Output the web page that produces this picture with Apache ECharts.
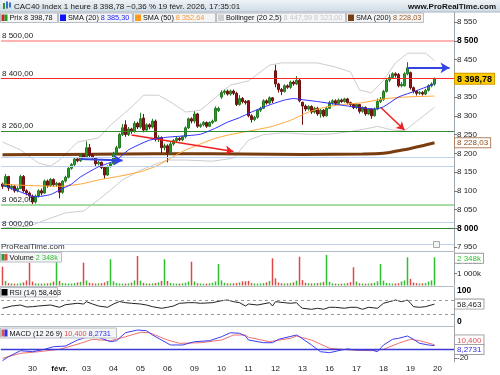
<!DOCTYPE html>
<html><head><meta charset="utf-8">
<script src="https://cdn.jsdelivr.net/npm/echarts@6.0.0/dist/echarts.min.js"></script>
<style>html,body{margin:0;padding:0;background:#fff}#c{width:500px;height:375px}</style>
</head><body><div id="c"></div>
<script>
// ---------------- DATA ----------------
const openP = [8118,8112,8138,8108,8112,8100,8106,8138,8100,8094,
 8086,8070,8086,8100,8094,8126,8114,8130,8116,
 8120,8096,8126,8136,8160,8170,8185,8180,8195,
 8190,8215,8195,8188,8172,8176,8162,8142,8165,
 8172,8200,8215,8250,8276,8250,8265,8258,8280,
 8270,8294,8262,8276,8270,8286,8238,8242,8215,
 8220,8202,8225,8234,8240,8236,8244,8268,8292,
 8286,8305,8272,8276,8282,8272,8282,8286,8314,
 8350,8362,8366,8358,8366,8360,8330,8346,8338,
 8340,8300,8290,8296,8315,8320,8340,8334,8348,
 8420,8385,8370,8365,8380,8376,8390,8385,8395,
 8336,8326,8318,8325,8310,8320,8305,8315,8300,
 8320,8335,8340,8333,8342,8338,8345,8335,8330,
 8322,8330,8312,8322,8305,8318,8300,8318,8338,
 8344,8365,8395,8402,8412,8410,8380,8380,8412,
 8415,8375,8366,8360,8362,8358,8368,8380,8385];
const closeP = [8112,8138,8108,8112,8100,8106,8138,8100,8094,8086,
 8070,8086,8100,8094,8126,8114,8130,8116,8120,
 8096,8126,8136,8160,8170,8185,8180,8195,8190,
 8215,8195,8188,8172,8176,8162,8142,8165,8172,
 8200,8215,8250,8268,8250,8265,8258,8280,8270,
 8292,8262,8276,8270,8286,8238,8242,8215,8220,
 8202,8225,8234,8240,8236,8244,8268,8292,8286,
 8305,8272,8276,8282,8272,8282,8286,8320,8320,
 8362,8366,8358,8366,8360,8330,8346,8338,8335,
 8300,8290,8296,8315,8320,8340,8334,8348,8340,
 8385,8370,8365,8380,8376,8390,8385,8395,8340,
 8326,8318,8325,8310,8320,8305,8315,8300,8320,
 8335,8340,8333,8342,8338,8345,8335,8330,8322,
 8330,8312,8322,8305,8318,8300,8318,8338,8344,
 8365,8395,8402,8412,8408,8380,8384,8412,8428,
 8375,8366,8360,8362,8358,8368,8380,8385,8398.78];
const lowP = [8105,8110,8100,8102,8095,8096,8104,8095,8088,8076,
 8062,8066,8082,8088,8092,8108,8110,8112,8110,
 8080,8092,8122,8133,8156,8166,8176,8177,8186,
 8188,8190,8182,8166,8168,8158,8132,8140,8162,
 8170,8196,8212,8246,8244,8246,8252,8255,8265,
 8266,8256,8258,8264,8266,8232,8230,8200,8208,
 8176,8198,8220,8230,8232,8232,8240,8265,8280,
 8280,8268,8268,8272,8268,8270,8278,8284,8310,
 8345,8356,8354,8354,8355,8326,8327,8333,8330,
 8296,8282,8286,8292,8310,8318,8330,8330,8334,
 8376,8362,8355,8362,8372,8372,8380,8382,8336,
 8276,8312,8314,8305,8306,8300,8295,8296,8298,
 8318,8330,8328,8330,8334,8335,8330,8325,8318,
 8318,8306,8308,8300,8302,8292,8298,8315,8334,
 8340,8362,8390,8398,8402,8376,8376,8378,8408,
 8370,8360,8354,8356,8354,8355,8365,8376,8380];
const highP = [8122,8145,8140,8118,8115,8112,8143,8142,8104,8098,
 8090,8090,8104,8106,8130,8130,8134,8133,8124,
 8122,8128,8140,8163,8174,8188,8190,8199,8199,
 8232,8225,8200,8190,8180,8178,8164,8168,8176,
 8204,8220,8254,8278,8288,8270,8268,8286,8284,
 8308,8305,8280,8280,8292,8290,8248,8245,8226,
 8224,8230,8238,8244,8243,8248,8272,8295,8296,
 8312,8308,8280,8286,8285,8285,8290,8325,8324,
 8368,8370,8370,8370,8370,8364,8355,8350,8342,
 8342,8304,8300,8318,8324,8344,8344,8352,8350,
 8436,8388,8374,8384,8384,8394,8394,8406,8398,
 8338,8330,8328,8328,8324,8324,8318,8318,8324,
 8340,8344,8344,8346,8346,8348,8348,8338,8334,
 8334,8332,8325,8325,8320,8320,8322,8346,8350,
 8369,8398,8410,8416,8416,8414,8390,8416,8443,
 8418,8378,8368,8366,8366,8372,8384,8389,8402];
const volumeK = [1567,
 380,200,170,150,160,190,260,420,1900,
 330,190,160,150,170,180,220,330,2458,
 380,200,180,160,160,200,250,300,1900,
 420,230,180,160,170,190,260,380,2183,
 350,200,170,150,160,180,240,420,2458,
 400,220,170,160,170,200,260,380,2183,
 380,210,170,150,160,180,230,330,1983,
 330,190,160,150,160,180,230,330,1792,
 420,230,180,170,180,200,260,350,350,
 380,200,170,160,170,200,260,380,2267,
 600,250,190,170,180,200,260,400,2400,
 450,230,190,170,180,200,240,300,2542,
 300,180,150,140,150,160,200,280,1517,
 330,190,160,150,160,190,230,350,1792,
 400,220,180,160,170,190,330,420,2350,
 550,240,200,170,180,200,320,420,2348];
const sma20Pts = [[0,8115],[5,8100],[11,8084],[16,8090],[19,8102],[23,8118],[26,8137],[32,8164],[38,8182],[42,8209],[49,8235],[55,8243],[60,8246],[66,8251],[71,8267],[75,8283],[79,8295],[83,8310],[89,8329],[94,8342],[97,8346],[100,8343],[105,8338],[110,8332],[116,8325],[121,8320],[124,8318],[127,8324],[132,8350],[138,8367],[144,8385.3]];
const sma50Pts = [[0,8118],[6,8115],[19,8112],[26,8118],[32,8129],[39,8139],[46,8151],[51,8165],[55,8182],[60,8205],[66,8225],[71,8240],[76,8250],[84,8262],[90,8272],[96,8288],[102,8310],[107,8322],[113,8330],[120,8335],[127,8345],[134,8350],[144,8352.64]];
const sma200Pts = [[0,8196],[20,8197],[40,8198],[60,8199],[80,8198],[100,8197],[120,8198],[127,8200],[132,8207],[136,8213],[140,8220],[144,8228.03]];
const bollUpPts = [[0,8230],[6,8209],[12,8174],[16,8166],[19,8182],[25,8230],[32,8241],[36,8275],[43,8323],[47,8355],[52,8355],[56,8337],[61,8310],[66,8315],[70,8342],[76,8382],[82,8393],[89,8435],[93,8441],[105,8441],[111,8430],[116,8417],[119,8369],[123,8361],[127,8395],[131,8441],[135,8467],[141,8467],[144,8447.59]];
const bollLoPts = [[0,8001],[9,8006],[16,8027],[21,8041],[27,8046],[32,8076],[36,8102],[40,8129],[46,8155],[52,8174],[55,8182],[61,8182],[70,8179],[77,8187],[82,8235],[87,8250],[94,8255],[99,8252],[105,8250],[110,8252],[116,8258],[121,8265],[125,8272],[130,8262],[134,8260],[138,8285],[144,8323]];
const rsiPts = [[0,46.8],[3,53],[6,56],[8,50.4],[10,51.3],[12,53.2],[16,56],[19,49.6],[21,56.9],[25,60.8],[27,58.8],[28,65.3],[30,58.8],[32,53.2],[35,49.6],[37,58.8],[39,65.8],[41,62.5],[43,60.8],[46,58.8],[48,56],[50,51.3],[53,46.8],[55,49.6],[57,53.2],[59,60.8],[62,62.5],[64,62.5],[66,60.8],[70,62.5],[73,68],[75,70],[77,65.3],[79,62.5],[81,53.2],[82,58.8],[85,56],[89,62.5],[90,53.2],[91,65.3],[94,62.5],[96,60.8],[98,62.5],[99,53.2],[100,46.8],[103,44],[105,46.8],[107,44],[109,49.6],[111,49.6],[114,46.8],[116,49.6],[118,49.6],[120,44],[122,49.6],[125,46.8],[127,60.8],[129,65.3],[131,70],[133,65.3],[135,70],[136,60.8],[137,51.3],[139,49.6],[141,51.3],[144,58.463]];
const macdPts = [[0,-25.9],[2,-16.8],[6,-3.2],[10,-5.5],[14,0],[17,5.9],[21,7.5],[25,21.1],[28,27.3],[32,27.3],[36,17.3],[38,19.5],[41,37.7],[45,43.9],[48,42.3],[50,32.5],[53,21.1],[56,9.8],[60,9.8],[64,17.3],[69,19.5],[73,28.6],[76,37.7],[79,36.4],[81,30.2],[82,21.1],[87,15],[90,15],[92,22.7],[98,32.5],[99,28.6],[103,9.8],[106,-5.5],[109,-7.7],[113,-1.6],[115,0.7],[118,-1.6],[123,-1.6],[125,-5.5],[127,9.8],[130,22.7],[132,25],[135,30.2],[137,22.7],[139,13.6],[142,9.8],[144,8.2731]];
const signalPts = [[0,-20.5],[6,-9.1],[12,-5.5],[19,0],[26,13.6],[30,22.7],[36,19.5],[41,28.6],[46,38.6],[49,37.7],[55,21.1],[59,13.6],[66,15],[73,21.1],[77,32.5],[81,32.5],[82,27.3],[89,17.3],[96,25],[98,30.2],[103,21.1],[109,2.3],[116,-1.6],[123,-3.2],[127,0],[132,13.6],[136,22.7],[139,19.5],[144,10.4]];
const dayTickIdx = [10,19,28,37,46,55,64,73,82,91,100,109,118,127,136,145];
const dayTickLbl = ['30','févr.','03','04','05','06','09','10','11','12','13','16','17','18','19','20'];
const priceTicks = [7950,8000,8050,8100,8150,8200,8250,8300,8350,8400,8450,8500,8550];
const levelRed = [8500, 8400];
const levelGreen = [8260, 8062, 8000];
const levelBlue = [8190, 8166, 8017, 7958];
const arrowsBlue = [[[26,8185],[40,8181]], [[135,8428],[149,8428]]];
const arrowsRed = [[[43,8249],[77,8205]], [[126,8323],[134,8262]]];
const lastPrice = 8398.78, lastSma20 = 8385.30, lastSma50 = 8352.64, lastSma200 = 8228.03;
const lastBollUp = 8447.59, lastBollLo = 8323.00, lastVolK = 2348, lastRsi = 58.463, lastMacd = 8.2731, lastSignal = 10.400;

// ---------------- CHART ----------------
const FONT = '"Liberation Sans", Arial, sans-serif';
const N = 151;
const cats = new Array(N).fill('');
dayTickIdx.forEach((k, j) => { cats[k] = dayTickLbl[j]; });
const sp = v => String(v).replace(/\B(?=(\d{3})+(?!\d))/g, ' ');
const fr = (v, d) => { const s = v.toFixed(d).split('.'); return sp(s[0]) + ',' + s[1]; };

const chart = echarts.init(document.getElementById('c'), null, {renderer: 'canvas', width: 500, height: 375});
const G = {left: 1, right: 46};
const grids = [
  {left: G.left, right: G.right, top: 12, height: 239},
  {left: G.left, right: G.right, top: 252, height: 33.5},
  {left: G.left, right: G.right, top: 287, height: 39},
  {left: G.left, right: G.right, top: 326, height: 36}
];
const xAxes = [0, 1, 2, 3].map(g => ({
  type: 'category', gridIndex: g, data: cats, boundaryGap: true,
  axisLine: {show: g === 3, lineStyle: {color: '#a8b0b8'}},
  axisTick: {show: false},
  axisLabel: {show: g === 3, interval: (i, v) => v !== '', fontSize: 8, color: '#222', margin: 3, fontFamily: FONT,
    formatter: v => v === 'févr.' ? '{b|févr.}' : v, rich: {b: {fontWeight: 'bold', fontSize: 8, fontFamily: FONT, color: '#111'}}},
  splitLine: {show: false}
}));
const axLine = {show: true, lineStyle: {color: '#9aa2aa'}};
const lbl = {fontSize: 8, color: '#222', margin: 3, fontFamily: FONT};
const yAxes = [
  {type: 'value', gridIndex: 0, position: 'right', min: 7939.5, max: 8576.8, splitLine: {show: false}, axisLine: axLine,
    axisTick: {show: true, length: 3, customValues: priceTicks, lineStyle: {color: '#777'}},
    axisLabel: Object.assign({}, lbl, {customValues: priceTicks,
      formatter: v => (v % 500 === 0) ? '{b|' + sp(v) + '}' : sp(v),
      rich: {b: {fontWeight: 'bold', fontSize: 8.5, color: '#000', fontFamily: FONT}}})},
  {type: 'value', gridIndex: 1, position: 'right', min: 0, max: 2792, splitLine: {show: false}, axisLine: axLine,
    axisTick: {show: true, length: 3, customValues: [0, 1000, 2000], lineStyle: {color: '#777'}},
    axisLabel: Object.assign({}, lbl, {customValues: [0, 1000, 2000],
      formatter: v => v === 0 ? '{z|0}' : sp(v) + 'k',
      rich: {z: {fontWeight: 'bold', fontSize: 8.5, color: '#000', padding: [0, 0, 8, 0], fontFamily: FONT}}})},
  {type: 'value', gridIndex: 2, position: 'right', min: -2.8, max: 106.4, splitLine: {show: false}, axisLine: axLine,
    axisTick: {show: false},
    axisLabel: Object.assign({}, lbl, {customValues: [0, 100],
      formatter: v => v === 0 ? '{z|0}' : '{t|100}',
      rich: {z: {fontWeight: 'bold', fontSize: 8.5, color: '#000', padding: [0, 0, 7, 0], fontFamily: FONT},
             t: {fontWeight: 'bold', fontSize: 8.5, color: '#000', padding: [3, 0, 0, 0], fontFamily: FONT}}})},
  {type: 'value', gridIndex: 3, position: 'right', min: -28.9, max: 53, splitLine: {show: false}, axisLine: axLine,
    axisTick: {show: true, length: 3, customValues: [-20], lineStyle: {color: '#777'}},
    axisLabel: Object.assign({}, lbl, {customValues: [-20], formatter: v => String(v)})}
];

function boxLabel(text, color, bg, border, shiftDown, bold, size) {
  const pad = shiftDown >= 0 ? [shiftDown * 2, 0, 0, 0] : [0, 0, -shiftDown * 2, 0];
  return {show: true, position: 'end', distance: 1, formatter: '{a|' + text + '}', padding: pad,
    rich: {a: {color: color, backgroundColor: bg, borderColor: border, borderWidth: 1, padding: [1, 2, 0, 2],
      fontSize: size || 8, fontWeight: bold ? 'bold' : 'normal', fontFamily: FONT, lineHeight: 10}}};
}
const hid = {color: 'rgba(0,0,0,0)', width: 0.01, type: 'solid'};
const levelLabel = t => ({show: true, position: 'insideStartTop', distance: [1, 1], formatter: t, fontSize: 8, color: '#222', fontFamily: FONT});

const candleData = openP.map((o, i) => [o, closeP[i], lowP[i], highP[i]]);
const volData = volumeK.map((v, i) => ({value: v, itemStyle: {color: closeP[i] >= openP[i] ? '#2fbf2f' : '#e04848'}}));

const arrowItems = [];
arrowsBlue.forEach(a => arrowItems.push([{coord: a[0], symbol: 'none'}, {coord: a[1], symbol: 'arrow', symbolSize: [8, 9], lineStyle: {color: '#3446e0', width: 2, type: 'solid'}}]));
arrowsRed.forEach(a => arrowItems.push([{coord: a[0], symbol: 'none'}, {coord: a[1], symbol: 'arrow', symbolSize: [7, 8], lineStyle: {color: '#ee2020', width: 1.5, type: 'solid'}}]));

const levelItems = [
  {yAxis: levelRed[0], lineStyle: {color: '#ff9a9a', width: 1.6, type: 'solid'}, label: levelLabel('8 500,00')},
  {yAxis: levelRed[1], lineStyle: {color: '#ff2a2a', width: 1, type: 'solid'}, label: levelLabel('8 400,00')},
  {yAxis: levelGreen[0], lineStyle: {color: '#2e8b2e', width: 1, type: 'solid'}, label: levelLabel('8 260,00')},
  {yAxis: levelGreen[1], lineStyle: {color: '#a6dba6', width: 2, type: 'solid'}, label: levelLabel('8 062,00')},
  {yAxis: levelGreen[2], lineStyle: {color: '#2a8c2a', width: 1, type: 'solid'}, label: levelLabel('8 000,00')}
].concat(levelBlue.map(v => ({yAxis: v, lineStyle: {color: '#bfd2f2', width: 1, type: 'solid'}, label: {show: false}})));

const series = [
  {type: 'line', name: 'bu', xAxisIndex: 0, yAxisIndex: 0, data: bollUpPts, showSymbol: false, z: 1, lineStyle: {color: '#cdcdcd', width: 1}, animation: false},
  {type: 'line', name: 'bl', xAxisIndex: 0, yAxisIndex: 0, data: bollLoPts, showSymbol: false, z: 1, lineStyle: {color: '#cdcdcd', width: 1}, animation: false},
  {type: 'line', name: 'sma200', xAxisIndex: 0, yAxisIndex: 0, data: sma200Pts, showSymbol: false, z: 2, smooth: 0.3,
    lineStyle: {color: '#7a3d10', width: 3}, animation: false,
    markLine: {silent: true, symbol: ['none', 'none'], animation: false, data: [
      {yAxis: lastSma200, lineStyle: hid, label: boxLabel(fr(lastSma200, 2), '#8a4a1a', '#ffffff', '#b08060', 0, false, 8)}]}},
  {type: 'candlestick', xAxisIndex: 0, yAxisIndex: 0, data: candleData, barWidth: 2, z: 3, animation: false,
    itemStyle: {color: '#2a9a2a', color0: '#8c1414', borderColor: '#237a23', borderColor0: '#6e1010', borderWidth: 1},
    markLine: {silent: true, symbol: ['none', 'none'], animation: false, data: levelItems.concat([
      {yAxis: lastPrice, lineStyle: hid, label: boxLabel(fr(lastPrice, 2), '#000', '#ffcc00', '#d09a00', 0, true, 9)}])}},
  {type: 'line', name: 'sma50', xAxisIndex: 0, yAxisIndex: 0, data: sma50Pts, showSymbol: false, z: 4, smooth: 0.2, lineStyle: {color: '#ffa531', width: 1}, animation: false},
  {type: 'line', name: 'sma20', xAxisIndex: 0, yAxisIndex: 0, data: sma20Pts, showSymbol: false, z: 5, smooth: 0.2, lineStyle: {color: '#2f2fff', width: 1}, animation: false,
    markLine: {silent: true, symbol: ['none', 'none'], animation: false, data: arrowItems}},
  {type: 'bar', xAxisIndex: 1, yAxisIndex: 1, data: volData, barWidth: 1.5, animation: false,
    markLine: {silent: true, symbol: ['none', 'none'], animation: false, data: [
      {yAxis: lastVolK, lineStyle: hid, label: boxLabel(sp(lastVolK) + 'k', '#2fbf2f', '#ffffff', '#a0a0a0', 1, false, 8)}]}},
  {type: 'line', xAxisIndex: 2, yAxisIndex: 2, data: rsiPts, showSymbol: false, lineStyle: {color: '#222', width: 1}, animation: false,
    markLine: {silent: true, symbol: ['none', 'none'], animation: false, data: [
      {yAxis: 70, lineStyle: {color: '#9a9a9a', type: [3, 3], width: 1}, label: {show: false}},
      {yAxis: 30, lineStyle: {color: '#9a9a9a', type: [3, 3], width: 1}, label: {show: false}},
      {yAxis: lastRsi, lineStyle: hid, label: boxLabel(fr(lastRsi, 3), '#222', '#ffffff', '#a0a0a0', 0, false, 8)}]}},
  {type: 'line', xAxisIndex: 3, yAxisIndex: 3, data: signalPts, showSymbol: false, lineStyle: {color: '#f07070', width: 1}, animation: false,
    markLine: {silent: true, symbol: ['none', 'none'], animation: false, data: [
      {yAxis: lastSignal, lineStyle: hid, label: boxLabel(fr(lastSignal, 3), '#e05050', '#ffffff', '#a0a0a0', -4.8, false, 8)}]}},
  {type: 'line', xAxisIndex: 3, yAxisIndex: 3, data: macdPts, showSymbol: false, lineStyle: {color: '#3c3cf0', width: 1}, animation: false,
    markLine: {silent: true, symbol: ['none', 'none'], animation: false, data: [
      {yAxis: 0, lineStyle: {color: '#3a3ad8', width: 1.3, type: 'solid'}, label: {show: false}},
      {yAxis: lastMacd, lineStyle: hid, label: boxLabel(fr(lastMacd, 4), '#3030e0', '#ffffff', '#a0a0a0', 3.8, false, 8)}]}}
];

// ---------- decorations (title bar, legends, separators) ----------
const LF = 7.3;
const tf = (s, w) => (w || 'normal') + ' ' + (s || 8) + 'px ' + FONT;
function legendBox(x, w, y, h, icons, text, rich) {
  const els = [{type: 'rect', shape: {x: x + 0.5, y: y + 0.5, width: w, height: h}, style: {fill: '#f4f5f6', stroke: '#b9bec4', lineWidth: 1}, z: 100}];
  icons.forEach(ic => els.push({type: 'rect', shape: {x: ic[0], y: y + 2, width: ic[1], height: h - 3}, style: {fill: ic[2]}, z: 101}));
  els.push({type: 'text', x: x + (icons.length ? icons[icons.length - 1][0] - x + icons[icons.length - 1][1] + 2 : 3), y: y + h / 2 + 1,
    style: {text: text, rich: rich, font: tf(LF), fill: '#111', verticalAlign: 'middle', textVerticalAlign: 'middle'}, z: 102});
  return els;
}
const R = c => ({fill: c, color: c, font: tf(LF), fontSize: LF, fontFamily: FONT});
const graphics = [].concat(
  [{type: 'rect', shape: {x: 0, y: 0, width: 500, height: 12}, style: {fill: new echarts.graphic.LinearGradient(0, 0, 0, 1, [{offset: 0, color: '#eef3f7'}, {offset: 1, color: '#cfdbe5'}])}, z: 100},
   {type: 'line', shape: {x1: 0, y1: 12, x2: 500, y2: 12}, style: {stroke: '#aab6c2', lineWidth: 1}, z: 100},
   {type: 'rect', shape: {x: 3, y: 3, width: 2, height: 6}, style: {fill: '#2a9a2a'}, z: 101},
   {type: 'rect', shape: {x: 6, y: 1.5, width: 2, height: 7}, style: {fill: '#3a70d0'}, z: 101},
   {type: 'rect', shape: {x: 9, y: 2.5, width: 2, height: 5}, style: {fill: '#3a70d0'}, z: 101},
   {type: 'text', x: 14, y: 6.5, style: {text: 'CAC40 Index 1 heure ' + fr(lastPrice, 2) + ' −0,36 % 19 févr. 2026, 17:35:01', font: tf(8), fill: '#1a1a1a', verticalAlign: 'middle', textVerticalAlign: 'middle'}, z: 102},
   {type: 'text', x: 496, y: 6.5, style: {text: 'www.ProRealTime.com', font: tf(8, 'bold'), fill: '#111', align: 'right', textAlign: 'right', verticalAlign: 'middle', textVerticalAlign: 'middle'}, z: 102}],
  legendBox(0, 57, 12.5, 9.5, [[1.5, 3, '#d42020'], [4.5, 3, '#20a020']], '{k|Prix ' + fr(lastPrice, 2) + '}', {k: R('#111')}),
  legendBox(58, 74, 12.5, 9.5, [[60, 6, '#1010ff']], '{k|SMA (20)} {v|' + fr(lastSma20, 2) + '}', {k: R('#111'), v: R('#2020ff')}),
  legendBox(133, 82, 12.5, 9.5, [[135, 6, '#ff9a1a']], '{k|SMA (50)} {v|' + fr(lastSma50, 2) + '}', {k: R('#111'), v: R('#ff9a30')}),
  legendBox(216, 129, 12.5, 9.5, [[218, 6, '#cfcfcf']], '{k|Bollinger (20 2,5)} {v|' + fr(lastBollUp, 2) + ' ' + fr(lastBollLo, 2) + '}', {k: R('#111'), v: R('#c8c8c8')}),
  legendBox(346, 77, 12.5, 9.5, [[348, 6, '#7a3d10']], '{k|SMA (200)} {v|' + fr(lastSma200, 2) + '}', {k: R('#111'), v: R('#9a5a25')}),
  [{type: 'text', x: 1, y: 246.5, style: {text: 'ProRealTime.com', font: tf(8), fill: '#333', verticalAlign: 'middle', textVerticalAlign: 'middle'}, z: 102},
   {type: 'rect', shape: {x: 433.5, y: 241.5, width: 6, height: 6}, style: {fill: '#f4f4f4', stroke: '#aaa', lineWidth: 1}, z: 101},
   {type: 'line', shape: {x1: 0, y1: 251.5, x2: 454, y2: 251.5}, style: {stroke: '#b4bcc4', lineWidth: 1}, z: 99},
   {type: 'line', shape: {x1: 0, y1: 286.5, x2: 454, y2: 286.5}, style: {stroke: '#b4bcc4', lineWidth: 1}, z: 99},
   {type: 'line', shape: {x1: 0, y1: 326.5, x2: 454, y2: 326.5}, style: {stroke: '#b4bcc4', lineWidth: 1}, z: 99}],
  legendBox(0, 61, 252, 9.5, [[1.5, 3, '#20a020'], [4.5, 3, '#e04848']], '{k|Volume} {v|' + sp(lastVolK) + 'k}', {k: R('#111'), v: R('#2fbf2f')}),
  legendBox(0, 57, 287, 9.5, [[1.5, 6, '#000000']], '{k|RSI (14) ' + fr(lastRsi, 3) + '}', {k: R('#111')}),
  legendBox(0, 116, 327.5, 10, [[1.5, 3, '#e05050'], [4.5, 3, '#3030e0']], '{k|MACD (12 26 9)} {r|' + fr(lastSignal, 3) + '} {b|' + fr(lastMacd, 4) + '}', {k: R('#111'), r: R('#e05050'), b: R('#3030e0')})
);

chart.setOption({
  animation: false,
  backgroundColor: '#ffffff',
  textStyle: {fontFamily: FONT},
  grid: grids, xAxis: xAxes, yAxis: yAxes, series: series, graphic: graphics
});
</script></body></html>
